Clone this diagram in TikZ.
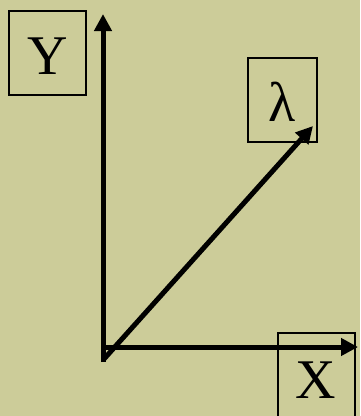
\documentclass[tikz,border=0pt]{standalone}
\usepackage{fontspec}
\setmainfont{Liberation Serif}
\usetikzlibrary{arrows.meta}
\definecolor{bg}{HTML}{CCCC99}
\begin{document}
\begin{tikzpicture}[x=1pt,y=-1pt,
  axis/.style={line width=5pt,-{Triangle[length=17pt,width=17pt]}},
  box/.style={draw,line width=2pt,inner sep=0pt},
  lbl/.style={font=\fontsize{56}{60}\selectfont,inner sep=0pt}]
\fill[bg] (0,0) rectangle (360,416);
\useasboundingbox (0,0) rectangle (360,416);
\node[box,minimum width=77pt,minimum height=84pt] (ybox) at (47.5,53) {};
\node[lbl] (ylbl) at (48,56) {Y};
\node[box,minimum width=69pt,minimum height=84pt] (lbox) at (282.5,100) {};
\node[lbl] (llbl) at (282,102) {λ};
\node[box,minimum width=77pt,minimum height=100pt] (xbox) at (316.5,383) {};
\node[lbl] (xlbl) at (316,380) {X};
\coordinate (o) at (103,362);
\coordinate (oy) at (103,14);
\coordinate (ox0) at (103,347);
\coordinate (ox) at (358,347);
\coordinate (od) at (104,359);
\coordinate (ol) at (313,126);
\draw[axis] (o) -- (oy);
\draw[axis] (ox0) -- (ox);
\draw[axis] (od) -- (ol);
\end{tikzpicture}
\end{document}
